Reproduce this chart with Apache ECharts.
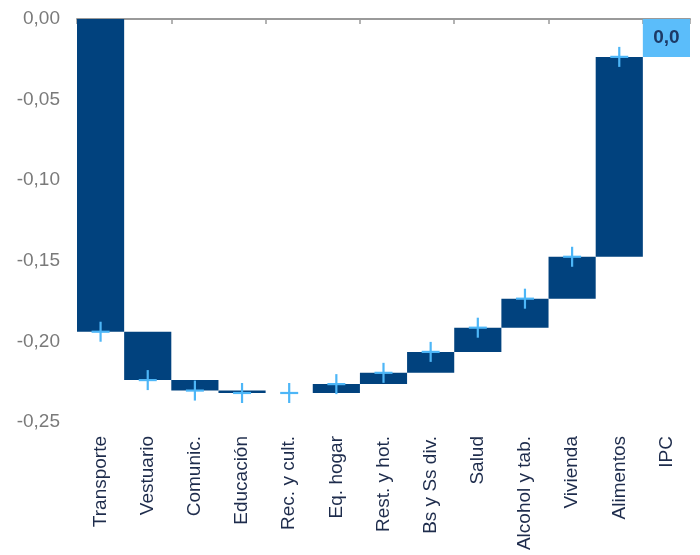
<!DOCTYPE html>
<html>
<head>
<meta charset="utf-8">
<script src="https://cdn.jsdelivr.net/npm/echarts@6/dist/echarts.min.js"></script>
<style>
html,body{margin:0;padding:0;background:#fff;}
#chart{width:700px;height:555px;}
</style>
</head>
<body>
<div id="chart"></div>
<script>
const categories = ['Transporte','Vestuario','Comunic.','Educación','Rec. y cult.','Eq. hogar','Rest. y hot.','Bs y Ss div.','Salud','Alcohol y tab.','Vivienda','Alimentos','IPC'];
const barStart = [0, -0.194, -0.224, -0.2305, -0.232, -0.232, -0.2265, -0.2195, -0.2065, -0.1915, -0.1735, -0.1475, -0.0235];
const barEnd = [-0.194, -0.224, -0.2305, -0.232, -0.232, -0.2265, -0.2195, -0.2065, -0.1915, -0.1735, -0.1475, -0.0235, 0];
const markerValues = [-0.194, -0.224, -0.2305, -0.232, -0.232, -0.2265, -0.2195, -0.2065, -0.1915, -0.1735, -0.1475, -0.0235];
const ipcLabel = '0,0';
const yTicks = {min: -0.25, max: 0, interval: 0.05};

const NAVY = '#01427e';
const LIGHT = '#5bbdfa';
const PLUS = '#4db6f7';
const FONT = 'Liberation Sans, Arial, sans-serif';

const barData = categories.map((c, i) => [i, barStart[i], barEnd[i]]);
const markerData = markerValues.map((v, i) => [i, v]);

const chart = echarts.init(document.getElementById('chart'), null, {renderer: 'canvas'});
chart.setOption({
  animation: false,
  grid: {left: 77, right: 10, top: 19, bottom: 133},
  xAxis: [
    {
      type: 'category', data: categories, position: 'bottom',
      axisLine: {show: false}, axisTick: {show: false},
      axisLabel: {rotate: 90, margin: 14, color: '#1e2c4c', fontSize: 19, fontFamily: FONT, interval: 0}
    },
    {
      type: 'category', data: categories, position: 'top',
      axisLine: {show: true, lineStyle: {color: '#9a9a9a', width: 2}},
      axisTick: {show: true, inside: true, length: 5, lineStyle: {color: '#9a9a9a', width: 1.5}},
      axisLabel: {show: false}
    }
  ],
  yAxis: {
    type: 'value', min: yTicks.min, max: yTicks.max, interval: yTicks.interval,
    splitLine: {show: false}, axisLine: {show: false}, axisTick: {show: false},
    axisLabel: {
      margin: 17, color: '#7a7a7a', fontSize: 19, fontFamily: FONT,
      formatter: v => (Math.abs(v) < 1e-9 ? 0 : v).toFixed(2).replace('.', ',')
    }
  },
  series: [
    {
      type: 'custom', xAxisIndex: 0,
      encode: {x: 0, y: [1, 2]},
      data: barData,
      renderItem: function (params, api) {
        const i = api.value(0);
        const p1 = api.coord([i, api.value(1)]);
        const p2 = api.coord([i, api.value(2)]);
        const w = api.size([1, 0])[0];
        const isLast = i === categories.length - 1;
        const top = Math.min(p1[1], p2[1]);
        const h = Math.abs(p2[1] - p1[1]);
        const children = [{
          type: 'rect',
          shape: {x: p1[0] - w / 2, y: top, width: w, height: h},
          style: {fill: isLast ? LIGHT : NAVY}
        }];
        if (isLast) {
          children.push({
            type: 'text',
            style: {
              x: p1[0], y: top + h / 2, text: ipcLabel, align: 'center', verticalAlign: 'middle',
              fill: '#1d3a66', font: 'bold 19px ' + FONT
            }
          });
        }
        return {type: 'group', children: children};
      }
    },
    {
      type: 'custom', xAxisIndex: 0,
      encode: {x: 0, y: 1},
      data: markerData,
      renderItem: function (params, api) {
        const p = api.coord([api.value(0), api.value(1)]);
        const style = {stroke: PLUS, lineWidth: 2.2};
        return {
          type: 'group',
          children: [
            {type: 'line', shape: {x1: p[0] - 9, y1: p[1], x2: p[0] + 9, y2: p[1]}, style: style},
            {type: 'line', shape: {x1: p[0], y1: p[1] - 10, x2: p[0], y2: p[1] + 10}, style: style}
          ]
        };
      }
    }
  ]
});
</script>
</body>
</html>
